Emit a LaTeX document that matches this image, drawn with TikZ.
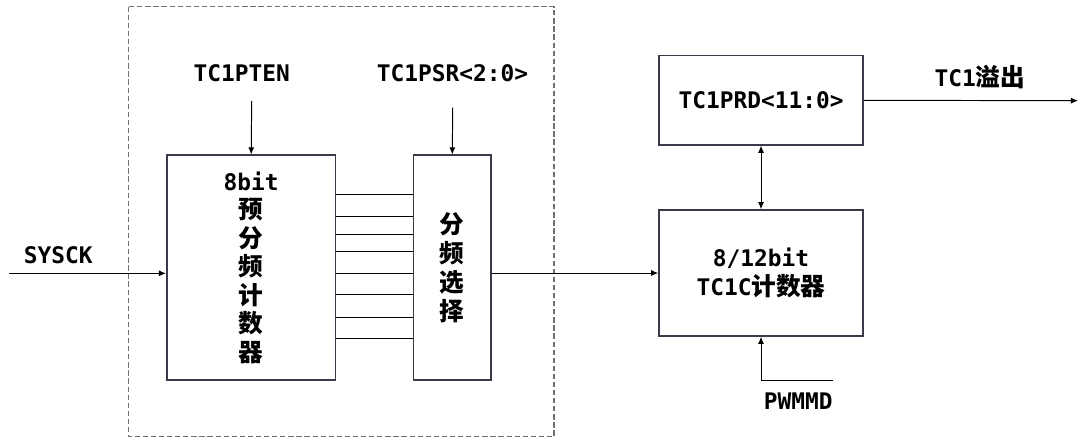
\documentclass[tikz,border=0pt]{standalone}
\usepackage{fontspec}
\setmainfont{DejaVu Sans Mono}
\newfontfamily\cjk[Scale=1.08]{Noto Sans CJK SC}
\usetikzlibrary{arrows.meta}
\definecolor{boxline}{HTML}{3A3A48}
\definecolor{dashline}{HTML}{70707A}
\newcommand{\zh}[1]{{\cjk #1}}

\tikzset{
  blk/.style={draw=boxline, line width=0.9pt, inner sep=0pt, align=center},
  sig/.style={black, line width=0.55pt},
  arr/.style={sig, -{Latex[length=4pt,width=3.4pt]}},
  dbl/.style={sig, {Latex[length=4pt,width=3.4pt]}-{Latex[length=4pt,width=3.4pt]}},
  lbl/.style={font=\fontsize{13}{16}\selectfont\bfseries, inner sep=0pt},
}

\begin{document}
\begin{tikzpicture}[x=0.02cm,y=-0.02cm]
\useasboundingbox (0,0) rectangle (1078,439);

% prescaler area
\draw[dashline, line width=0.6pt, dash pattern=on 3pt off 1.6pt] (128.3,6.7) rectangle (554,436.7);

\node[blk, minimum width=3.38cm, minimum height=4.49cm, font=\fontsize{13}{16.2}\selectfont\bfseries] (pre) at (251.2,267.5)
  {8bit\\\zh{预}\\\zh{分}\\\zh{频}\\\zh{计}\\\zh{数}\\\zh{器}};
\node[blk, minimum width=1.546cm, minimum height=4.49cm, font=\fontsize{13}{16.5}\selectfont\bfseries] (sel) at (452.3,267.5)
  {\zh{分}\\\zh{频}\\\zh{选}\\\zh{择}};

\node[blk, minimum width=4.086cm, minimum height=1.786cm, font=\fontsize{13}{16}\selectfont\bfseries] (prd) at (761,100.3) {TC1PRD<11:0>};
\node[blk, minimum width=4.08cm, minimum height=2.52cm, font=\fontsize{13}{17}\selectfont\bfseries] (cnt) at (761,273)
  {8/12bit\\TC1C\zh{计数器}};

\node[lbl] (sysck) at (58.3,255) {SYSCK};
\node[lbl] (pten) at (241.7,73.3) {TC1PTEN};
\node[lbl] (psr) at (452.5,73.3) {TC1PSR<2:0>};
\node[lbl] (ovf) at (980,76.7) {TC1\zh{溢出}};
\node[lbl] (pwm) at (798.3,400.7) {PWMMD};

\coordinate (sysin) at (9,273.3);
\coordinate (ptenin) at (251.7,101);
\coordinate (psrin) at (452.7,107.7);
\coordinate (pwmin) at (832.7,380.7);
\coordinate (ovfout) at (1078,100.7);

% signals
\draw[arr] (sysin) -- (sysin -| pre.west);
\draw[arr] (ptenin) -- (pre.north);
\draw[arr] (psrin) -- (sel.north);
\foreach \y in {194.3,216.3,234.3,251.7,273,294.3,317.3,338.7}
  \draw[sig] (pre.east |- 0,\y) -- (sel.west |- 0,\y);
\draw[arr] (sel.east |- cnt.west) -- (cnt.west);
\draw[dbl] (prd.south) -- (cnt.north);
\draw[arr] (pwmin) -- (pwmin -| cnt.south) -- (cnt.south);
\draw[arr] (prd.east) -- (ovfout);

\end{tikzpicture}
\end{document}
